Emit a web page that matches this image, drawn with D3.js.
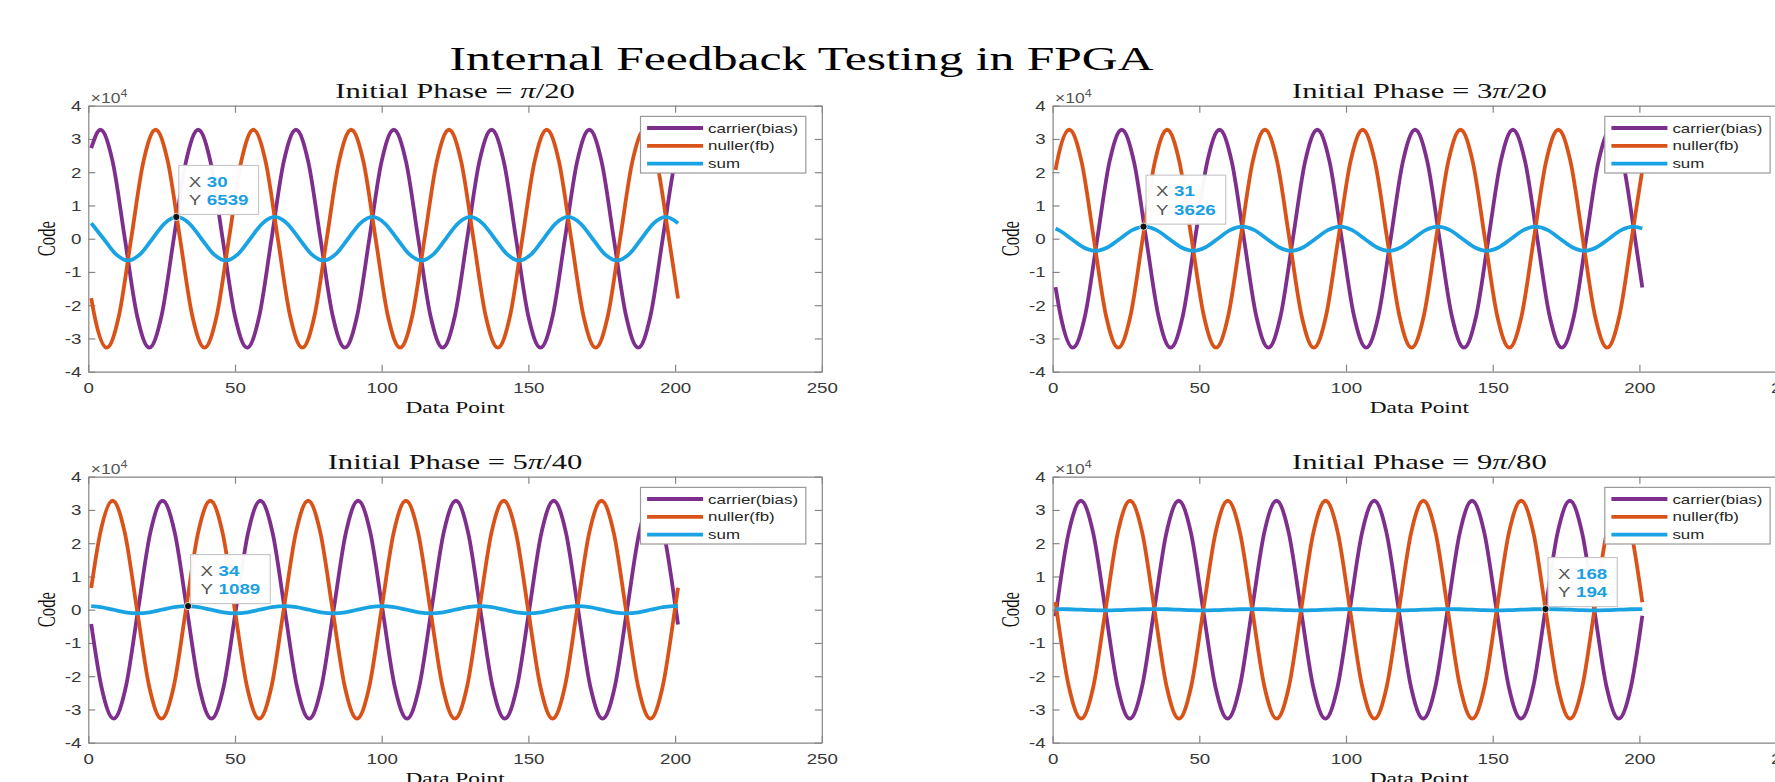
<!DOCTYPE html>
<html>
<head>
<meta charset="utf-8">
<title>Internal Feedback Testing in FPGA</title>
<script src="https://cdn.jsdelivr.net/npm/d3@7"></script>
<style>
  html, body { margin: 0; padding: 0; background: #fff; }
  svg { display: block; }
</style>
</head>
<body>
<script>
// axis ticks and labels
var xTicks = [0, 50, 100, 150, 200, 250];
var yTicks = [-40000, -30000, -20000, -10000, 0, 10000, 20000, 30000, 40000];
var seriesNames = ["carrier(bias)", "nuller(fb)", "sum"];
var phaseLabels = ["π/20", "3π/20", "5π/40", "9π/80"];
var tipX = [30, 31, 34, 168];
var tipY = [6539, 3626, 1089, 194];

// points: start, then peaks / half-way / zero crossings / troughs, then end
var p1CarrierX = [1,
	4.13, 8.30, 12.46, 16.63, 20.80, 24.96, 29.13, 33.29,
	37.46, 41.63, 45.79, 49.96, 54.13, 58.29, 62.46, 66.62,
	70.79, 74.96, 79.12, 83.29, 87.46, 91.62, 95.79, 99.95,
	104.12, 108.29, 112.45, 116.62, 120.79, 124.95, 129.12, 133.28,
	137.45, 141.62, 145.78, 149.95, 154.12, 158.28, 162.45, 166.61,
	170.78, 174.95, 179.11, 183.28, 187.45, 191.61, 195.78, 199.94,
	201];
var p1CarrierY = [27230,
	32767, 23170, 0, -23170, -32767, -23170, 0, 23170,
	32767, 23170, 0, -23170, -32767, -23170, 0, 23170,
	32767, 23170, 0, -23170, -32767, -23170, 0, 23170,
	32767, 23170, 0, -23170, -32767, -23170, 0, 23170,
	32767, 23170, 0, -23170, -32767, -23170, 0, 23170,
	32767, 23170, 0, -23170, -32767, -23170, 0, 23170,
	27290];
var p1NullerX = [1,
	2.11, 6.28, 10.44, 14.61, 18.78, 22.94, 27.11, 31.27,
	35.44, 39.61, 43.77, 47.94, 52.11, 56.27, 60.44, 64.60,
	68.77, 72.94, 77.10, 81.27, 85.44, 89.60, 93.77, 97.93,
	102.10, 106.27, 110.43, 114.60, 118.77, 122.93, 127.10, 131.26,
	135.43, 139.60, 143.76, 147.93, 152.10, 156.26, 160.43, 164.59,
	168.76, 172.93, 177.09, 181.26, 185.43, 189.59, 193.76, 197.92,
	201];
var p1NullerY = [-17870,
	-23170, -32767, -23170, 0, 23170, 32767, 23170, 0,
	-23170, -32767, -23170, 0, 23170, 32767, 23170, 0,
	-23170, -32767, -23170, 0, 23170, 32767, 23170, 0,
	-23170, -32767, -23170, 0, 23170, 32767, 23170, 0,
	-23170, -32767, -23170, 0, 23170, 32767, 23170, 0,
	-23170, -32767, -23170, 0, 23170, 32767, 23170, 0,
	-17980];
var p1SumX = [1,
	5.21, 9.38, 13.54, 17.71, 21.88, 26.04, 30.21, 34.37,
	38.54, 42.71, 46.87, 51.04, 55.21, 59.37, 63.54, 67.70,
	71.87, 76.04, 80.20, 84.37, 88.54, 92.70, 96.87, 101.03,
	105.20, 109.37, 113.53, 117.70, 121.87, 126.03, 130.20, 134.36,
	138.53, 142.70, 146.86, 151.03, 155.20, 159.36, 163.53, 167.69,
	171.86, 176.03, 180.19, 184.36, 188.53, 192.69, 196.86,
	201];
var p1SumY = [4680,
	0, -4627, -6543, -4627, 0, 4627, 6543, 4627,
	0, -4627, -6543, -4627, 0, 4627, 6543, 4627,
	0, -4627, -6543, -4627, 0, 4627, 6543, 4627,
	0, -4627, -6543, -4627, 0, 4627, 6543, 4627,
	0, -4627, -6543, -4627, 0, 4627, 6543, 4627,
	0, -4627, -6543, -4627, 0, 4627, 6543,
	4640];

var p2CarrierX = [1,
	2.73, 6.90, 11.06, 15.23, 19.40, 23.56, 27.73, 31.89,
	36.06, 40.23, 44.39, 48.56, 52.73, 56.89, 61.06, 65.22,
	69.39, 73.56, 77.72, 81.89, 86.06, 90.22, 94.39, 98.55,
	102.72, 106.89, 111.05, 115.22, 119.39, 123.55, 127.72, 131.88,
	136.05, 140.22, 144.38, 148.55, 152.72, 156.88, 161.05, 165.21,
	169.38, 173.55, 177.71, 181.88, 186.05, 190.21, 194.38, 198.54,
	201];
var p2CarrierY = [-14550,
	-23170, -32767, -23170, 0, 23170, 32767, 23170, 0,
	-23170, -32767, -23170, 0, 23170, 32767, 23170, 0,
	-23170, -32767, -23170, 0, 23170, 32767, 23170, 0,
	-23170, -32767, -23170, 0, 23170, 32767, 23170, 0,
	-23170, -32767, -23170, 0, 23170, 32767, 23170, 0,
	-23170, -32767, -23170, 0, 23170, 32767, 23170, 0,
	-14660];
var p2NullerX = [1,
	1.54, 5.71, 9.87, 14.04, 18.21, 22.37, 26.54, 30.70,
	34.87, 39.04, 43.20, 47.37, 51.54, 55.70, 59.87, 64.03,
	68.20, 72.37, 76.53, 80.70, 84.87, 89.03, 93.20, 97.36,
	101.53, 105.70, 109.86, 114.03, 118.20, 122.36, 126.53, 130.69,
	134.86, 139.03, 143.19, 147.36, 151.53, 155.69, 159.86, 164.02,
	168.19, 172.36, 176.52, 180.69, 184.86, 189.02, 193.19, 197.35,
	201];
var p2NullerY = [20680,
	23170, 32767, 23170, 0, -23170, -32767, -23170, 0,
	23170, 32767, 23170, 0, -23170, -32767, -23170, 0,
	23170, 32767, 23170, 0, -23170, -32767, -23170, 0,
	23170, 32767, 23170, 0, -23170, -32767, -23170, 0,
	23170, 32767, 23170, 0, -23170, -32767, -23170, 0,
	23170, 32767, 23170, 0, -23170, -32767, -23170, 0,
	20760];
var p2SumX = [1,
	2.14, 6.31, 10.47, 14.64, 18.81, 22.97, 27.14, 31.30,
	35.47, 39.64, 43.80, 47.97, 52.14, 56.30, 60.47, 64.63,
	68.80, 72.97, 77.13, 81.30, 85.47, 89.63, 93.80, 97.96,
	102.13, 106.30, 110.46, 114.63, 118.80, 122.96, 127.13, 131.29,
	135.46, 139.63, 143.79, 147.96, 152.13, 156.29, 160.46, 164.62,
	168.79, 172.96, 177.12, 181.29, 185.46, 189.62, 193.79, 197.95,
	201];
var p2SumY = [3050,
	2567, 0, -2567, -3630, -2567, 0, 2567, 3630,
	2567, 0, -2567, -3630, -2567, 0, 2567, 3630,
	2567, 0, -2567, -3630, -2567, 0, 2567, 3630,
	2567, 0, -2567, -3630, -2567, 0, 2567, 3630,
	2567, 0, -2567, -3630, -2567, 0, 2567, 3630,
	2567, 0, -2567, -3630, -2567, 0, 2567, 3630,
	3050];

var p3CarrierX = [1,
	4.47, 8.64, 12.80, 16.97, 21.14, 25.30, 29.47, 33.63,
	37.80, 41.97, 46.13, 50.30, 54.47, 58.63, 62.80, 66.96,
	71.13, 75.30, 79.46, 83.63, 87.80, 91.96, 96.13, 100.29,
	104.46, 108.63, 112.79, 116.96, 121.13, 125.29, 129.46, 133.62,
	137.79, 141.96, 146.12, 150.29, 154.46, 158.62, 162.79, 166.95,
	171.12, 175.29, 179.45, 183.62, 187.79, 191.95, 196.12, 200.28,
	201];
var p3CarrierY = [-4310,
	-23170, -32767, -23170, 0, 23170, 32767, 23170, 0,
	-23170, -32767, -23170, 0, 23170, 32767, 23170, 0,
	-23170, -32767, -23170, 0, 23170, 32767, 23170, 0,
	-23170, -32767, -23170, 0, 23170, 32767, 23170, 0,
	-23170, -32767, -23170, 0, 23170, 32767, 23170, 0,
	-23170, -32767, -23170, 0, 23170, 32767, 23170, 0,
	-4430];
var p3NullerX = [1,
	4.10, 8.27, 12.43, 16.60, 20.77, 24.93, 29.10, 33.26,
	37.43, 41.60, 45.76, 49.93, 54.10, 58.26, 62.43, 66.59,
	70.76, 74.93, 79.09, 83.26, 87.43, 91.59, 95.76, 99.92,
	104.09, 108.26, 112.42, 116.59, 120.76, 124.92, 129.09, 133.25,
	137.42, 141.59, 145.75, 149.92, 154.09, 158.25, 162.42, 166.58,
	170.75, 174.92, 179.08, 183.25, 187.42, 191.58, 195.75, 199.91,
	201];
var p3NullerY = [6500,
	23170, 32767, 23170, 0, -23170, -32767, -23170, 0,
	23170, 32767, 23170, 0, -23170, -32767, -23170, 0,
	23170, 32767, 23170, 0, -23170, -32767, -23170, 0,
	23170, 32767, 23170, 0, -23170, -32767, -23170, 0,
	23170, 32767, 23170, 0, -23170, -32767, -23170, 0,
	23170, 32767, 23170, 0, -23170, -32767, -23170, 0,
	6630];
var p3SumX = [1,
	4.29, 8.46, 12.62, 16.79, 20.96, 25.12, 29.29, 33.45,
	37.62, 41.79, 45.95, 50.12, 54.29, 58.45, 62.62, 66.78,
	70.95, 75.12, 79.28, 83.45, 87.62, 91.78, 95.95, 100.11,
	104.28, 108.45, 112.61, 116.78, 120.95, 125.11, 129.28, 133.44,
	137.61, 141.78, 145.94, 150.11, 154.28, 158.44, 162.61, 166.77,
	170.94, 175.11, 179.27, 183.44, 187.61, 191.77, 195.94, 200.10,
	201];
var p3SumY = [1080,
	774, 0, -774, -1095, -774, 0, 774, 1095,
	774, 0, -774, -1095, -774, 0, 774, 1095,
	774, 0, -774, -1095, -774, 0, 774, 1095,
	774, 0, -774, -1095, -774, 0, 774, 1095,
	774, 0, -774, -1095, -774, 0, 774, 1095,
	774, 0, -774, -1095, -774, 0, 774, 1095,
	1080];

var p4CarrierX = [1,
	5.48, 9.65, 13.81, 17.98, 22.15, 26.31, 30.48, 34.64,
	38.81, 42.98, 47.14, 51.31, 55.48, 59.64, 63.81, 67.97,
	72.14, 76.31, 80.47, 84.64, 88.81, 92.97, 97.14, 101.30,
	105.47, 109.64, 113.80, 117.97, 122.14, 126.30, 130.47, 134.63,
	138.80, 142.97, 147.13, 151.30, 155.47, 159.63, 163.80, 167.96,
	172.13, 176.30, 180.46, 184.63, 188.80, 192.96, 197.13,
	201];
var p4CarrierY = [-1980,
	23170, 32767, 23170, 0, -23170, -32767, -23170, 0,
	23170, 32767, 23170, 0, -23170, -32767, -23170, 0,
	23170, 32767, 23170, 0, -23170, -32767, -23170, 0,
	23170, 32767, 23170, 0, -23170, -32767, -23170, 0,
	23170, 32767, 23170, 0, -23170, -32767, -23170, 0,
	23170, 32767, 23170, 0, -23170, -32767, -23170,
	-1850];
var p4NullerX = [1,
	5.55, 9.72, 13.88, 18.05, 22.22, 26.38, 30.55, 34.71,
	38.88, 43.05, 47.21, 51.38, 55.55, 59.71, 63.88, 68.04,
	72.21, 76.38, 80.54, 84.71, 88.88, 93.04, 97.21, 101.37,
	105.54, 109.71, 113.87, 118.04, 122.21, 126.37, 130.54, 134.70,
	138.87, 143.04, 147.20, 151.37, 155.54, 159.70, 163.87, 168.03,
	172.20, 176.37, 180.53, 184.70, 188.87, 193.03, 197.20,
	201];
var p4NullerY = [2350,
	-23170, -32767, -23170, 0, 23170, 32767, 23170, 0,
	-23170, -32767, -23170, 0, 23170, 32767, 23170, 0,
	-23170, -32767, -23170, 0, 23170, 32767, 23170, 0,
	-23170, -32767, -23170, 0, 23170, 32767, 23170, 0,
	-23170, -32767, -23170, 0, 23170, 32767, 23170, 0,
	-23170, -32767, -23170, 0, 23170, 32767, 23170,
	2220];
var p4SumX = [1,
	5.52, 9.69, 13.85, 18.02, 22.19, 26.35, 30.52, 34.68,
	38.85, 43.02, 47.18, 51.35, 55.52, 59.68, 63.85, 68.01,
	72.18, 76.35, 80.51, 84.68, 88.85, 93.01, 97.18, 101.34,
	105.51, 109.68, 113.84, 118.01, 122.18, 126.34, 130.51, 134.67,
	138.84, 143.01, 147.17, 151.34, 155.51, 159.67, 163.84, 168.00,
	172.17, 176.34, 180.50, 184.67, 188.84, 193.00, 197.17,
	201];
var p4SumY = [190,
	137, 0, -137, -194, -137, 0, 137, 194,
	137, 0, -137, -194, -137, 0, 137, 194,
	137, 0, -137, -194, -137, 0, 137, 194,
	137, 0, -137, -194, -137, 0, 137, 194,
	137, 0, -137, -194, -137, 0, 137, 194,
	137, 0, -137, -194, -137, 0, 137,
	190];

var panelSeries = [
	[[p1CarrierX, p1CarrierY], [p1NullerX, p1NullerY], [p1SumX, p1SumY]],
	[[p2CarrierX, p2CarrierY], [p2NullerX, p2NullerY], [p2SumX, p2SumY]],
	[[p3CarrierX, p3CarrierY], [p3NullerX, p3NullerY], [p3SumX, p3SumY]],
	[[p4CarrierX, p4CarrierY], [p4NullerX, p4NullerY], [p4SumX, p4SumY]]
];

// layout
var width = 1775,
	height = 782,
	axW = 733.5,
	axH = 266,
	frames = [
		{left: 88.3, top: 105.7},
		{left: 1052.6, top: 105.7},
		{left: 88.3, top: 476.7},
		{left: 1052.6, top: 476.7}
	],
	SANS = "'Liberation Sans', Arial, Helvetica, sans-serif",
	SERIF = "'Liberation Serif', 'Times New Roman', serif",
	sxSans = 1.25,
	sxSerif = 1.46,
	colors = ["#7E2F8E", "#D95319", "#1AA3E3"],
	tipColor = "#1A9FE0",
	axisColor = "#858585",
	tickColor = "#383838";

var svg = d3.select("body").append("svg")
	.attr("width", width)
	.attr("height", height)
	.style("background", "#fff");

function stretched(sel, x, y, sx) {
	return sel.attr("transform", "translate(" + x + "," + y + ") scale(" + sx + ",1)");
}

stretched(svg.append("text"), 801.5, 70, sxSerif)
	.attr("text-anchor", "middle")
	.style("font-family", SERIF)
	.style("font-size", "34px")
	.attr("fill", "#000")
	.text("Internal Feedback Testing in FPGA");

function drawAxes(g, x, y) {
	g.append("g")
		.attr("transform", "translate(0," + y.range()[0] + ")")
		.call(d3.axisBottom(x).tickValues(xTicks).tickSizeInner(-7).tickSizeOuter(0)
			.tickPadding(11).tickFormat(d3.format("d")));
	g.append("g")
		.attr("transform", "translate(0," + y.range()[1] + ")")
		.call(d3.axisTop(x).tickValues(xTicks).tickSizeInner(-7).tickSizeOuter(0).tickFormat(""));
	g.append("g")
		.attr("transform", "translate(" + x.range()[0] + ",0)")
		.call(d3.axisLeft(y).tickValues(yTicks).tickSizeInner(-7).tickSizeOuter(0)
			.tickPadding(5.6).tickFormat(function(d) { return String(d / 1e4); }));
	g.append("g")
		.attr("transform", "translate(" + x.range()[1] + ",0)")
		.call(d3.axisRight(y).tickValues(yTicks).tickSizeInner(-7).tickSizeOuter(0).tickFormat(""));
	g.selectAll(".domain, .tick line")
		.attr("stroke", axisColor)
		.attr("stroke-width", 1.2);
	g.selectAll(".tick text")
		.attr("fill", tickColor)
		.style("font-family", SANS)
		.style("font-size", "15px")
		.attr("transform", "scale(" + sxSans + ",1)");
}

function drawPanel(f, i) {
	var g = svg.append("g"),
		x = d3.scaleLinear().domain([0, 250]).range([f.left, f.left + axW]),
		y = d3.scaleLinear().domain([-40000, 40000]).range([f.top + axH, f.top]);

	drawAxes(g, x, y);

	// x10^4 exponent
	var ex = stretched(g.append("text"), f.left + 2.5, f.top - 3, sxSans)
		.style("font-family", SANS)
		.style("font-size", "14px")
		.attr("fill", "#555");
	ex.append("tspan").text("×10");
	ex.append("tspan").attr("dy", -6).style("font-size", "10px").text("4");

	// subplot title
	var parts = phaseLabels[i].split("π");
	var t = stretched(g.append("text"), f.left + axW / 2, f.top - 7.8, sxSerif)
		.attr("text-anchor", "middle")
		.style("font-family", SERIF)
		.style("font-size", "21px")
		.attr("fill", "#111");
	t.append("tspan").text("Initial Phase = " + parts[0]);
	t.append("tspan").style("font-style", "italic").text("π");
	t.append("tspan").text(parts[1]);

	stretched(g.append("text"), f.left + axW / 2, f.top + axH + 41.3, sxSerif)
		.attr("text-anchor", "middle")
		.style("font-family", SERIF)
		.style("font-size", "16px")
		.attr("fill", "#111")
		.text("Data Point");

	g.append("text")
		.attr("transform", "translate(" + (f.left - 33.5) + "," + (f.top + axH / 2) + ") scale(" + sxSerif + ",1) rotate(-90)")
		.attr("text-anchor", "middle")
		.style("font-family", SERIF)
		.style("font-size", "16.6px")
		.attr("fill", "#111")
		.text("Code");

	// the three traces
	var line = d3.line()
		.x(function(d) { return x(d[0]); })
		.y(function(d) { return y(d[1]); })
		.curve(d3.curveMonotoneX);
	panelSeries[i].forEach(function(s, k) {
		g.append("path")
			.datum(d3.zip(s[0], s[1]))
			.attr("d", line)
			.attr("fill", "none")
			.attr("stroke", colors[k])
			.attr("stroke-width", 3.8)
			.attr("stroke-linejoin", "round");
	});

	// legend
	var lx = f.left + axW - 181.3,
		ly = f.top + 10.7;
	g.append("rect")
		.attr("x", lx).attr("y", ly)
		.attr("width", 165.3).attr("height", 56.6)
		.attr("fill", "#fff")
		.attr("stroke", "#9a9a9a")
		.attr("stroke-width", 1.2);
	seriesNames.forEach(function(name, k) {
		var ry = ly + 11.6 + k * 17.85;
		g.append("line")
			.attr("x1", lx + 6.6).attr("x2", lx + 62.6)
			.attr("y1", ry).attr("y2", ry)
			.attr("stroke", colors[k])
			.attr("stroke-width", 3.8);
		stretched(g.append("text"), lx + 67.6, ry + 4.6, sxSans)
			.style("font-family", SANS)
			.style("font-size", "13.5px")
			.attr("fill", "#262626")
			.text(name);
	});

	// data tip
	var mx = x(tipX[i]),
		my = y(tipY[i]),
		bx = mx + 2.5,
		by = my - 51.5,
		tip = g.append("g");
	var box = tip.append("rect")
		.attr("x", bx).attr("y", by)
		.attr("height", 49)
		.attr("fill", "#fff")
		.attr("fill-opacity", 0.96)
		.attr("stroke", "#c8c8c8")
		.attr("stroke-width", 1.2);
	[["X", tipX[i], 21.3], ["Y", tipY[i], 39.7]].forEach(function(row) {
		stretched(tip.append("text"), bx + 10, by + row[2], sxSans)
			.style("font-family", SANS)
			.style("font-size", "15px")
			.attr("fill", "#555")
			.text(row[0]);
		stretched(tip.append("text"), bx + 28, by + row[2], sxSans)
			.attr("class", "tipval")
			.style("font-family", SANS)
			.style("font-size", "15px")
			.style("font-weight", "bold")
			.attr("fill", tipColor)
			.text(row[1]);
	});
	var maxLen = 0;
	tip.selectAll(".tipval").each(function() {
		maxLen = Math.max(maxLen, this.getComputedTextLength() * sxSans);
	});
	box.attr("width", 28 + maxLen + 10);
	tip.append("circle")
		.attr("cx", mx).attr("cy", my)
		.attr("r", 3.6)
		.attr("fill", "#111")
		.attr("stroke", "#fff")
		.attr("stroke-width", 0.8);
}

frames.forEach(drawPanel);
</script>
</body>
</html>
